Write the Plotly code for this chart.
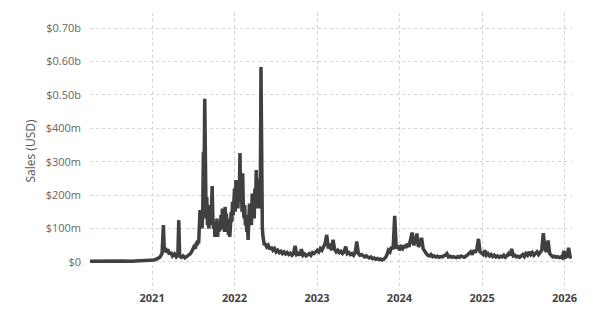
import pandas as pd
import plotly.graph_objects as go

# Segment 1: quiet start (explicit dates), values in USD millions
dates_early = [
    "2020-04-01","2020-05-15","2020-07-01","2020-08-15","2020-10-01","2020-11-15","2020-12-20",
    "2021-01-10","2021-01-25","2021-02-05","2021-02-14","2021-02-20","2021-02-24","2021-03-01",
    "2021-03-06","2021-03-12","2021-03-18","2021-03-24","2021-04-01","2021-04-10","2021-04-18",
    "2021-04-25","2021-04-29","2021-05-03","2021-05-10","2021-05-18","2021-05-26","2021-06-03",
    "2021-06-12","2021-06-20","2021-06-28","2021-07-05","2021-07-12","2021-07-17",
]
sales_early = [
    2, 3, 2, 3, 2, 3, 3,
    6, 10, 15, 25, 110, 30, 42,
    28, 38, 22, 30, 18, 24, 15,
    20, 125, 18, 14, 18, 12, 16,
    20, 25, 35, 45, 40, 60,
]

# Segment 2: boom period, every 3 days from 2021-07-20
boom_start = "2021-07-20"
sales_boom = [
    50, 65, 55, 95, 155, 110, 130, 100, 145, 330,
    250, 488, 200, 130, 195, 110, 170, 100, 125, 150,
    110, 180, 227, 130, 100, 120, 75, 110, 85, 130,
    75, 100, 90, 120, 95, 140, 100, 160, 110, 150,
    90, 165, 120, 145, 90, 130, 80, 120, 75, 110,
    150, 120, 180, 140, 190, 220, 150, 245, 170, 210,
    160, 240, 200, 326, 180, 230, 150, 265, 160, 130,
    170, 110, 140, 90, 110, 66, 120, 175, 120, 160,
    110, 205, 140, 190, 130, 220, 160, 275, 170, 230,
    205, 160, 250, 190, 583, 200, 100, 75, 60, 50,
]

# Segment 3: weekly from 2022-05-16
late_start = "2022-05-16"
sales_late = [
    55, 45, 50, 38, 45, 35, 40, 30, 35, 28,
    32, 25, 30, 24, 28, 22, 26, 20, 25, 48,
    22, 25, 20, 38, 20, 24, 18, 22, 25, 20,
    28, 25, 32, 35, 30, 40, 35, 45, 55, 81,
    40, 55, 35, 66, 38, 30, 35, 28, 32, 25,
    30, 46, 25, 28, 22, 25, 20, 28, 61, 25,
    20, 22, 18, 15, 18, 14, 12, 15, 10, 12,
    8, 10, 7, 9, 6, 8, 12, 20, 35, 30,
    45, 38, 138, 40, 50, 35, 45, 40, 50, 42,
    55, 45, 70, 88, 50, 60, 85, 45, 55, 72,
    40, 30, 25, 20, 18, 22, 16, 18, 15, 17,
    14, 16, 15, 18, 20, 25, 15, 17, 14, 16,
    15, 13, 16, 14, 18, 15, 14, 17, 20, 25,
    30, 22, 35, 28, 40, 69, 30, 25, 22, 35,
    20, 25, 18, 22, 16, 20, 15, 18, 14, 17,
    15, 20, 14, 18, 25, 20, 39, 18, 20, 15,
    17, 14, 18, 22, 16, 25, 20, 30, 22, 28,
    20, 25, 30, 22, 28, 35, 86, 40, 30, 64,
    25, 18, 15, 17, 14, 16, 13, 15, 12, 33,
    14, 16, 42, 15, 13,
]

ytick_vals = [0, 100, 200, 300, 400, 500, 600, 700]
ytick_text = ["$0", "$100m", "$200m", "$300m", "$400m", "$0.50b", "$0.60b", "$0.70b"]
xtick_vals = ["2021-01-01", "2022-01-01", "2023-01-01", "2024-01-01", "2025-01-01", "2026-01-01"]
xtick_text = ["2021", "2022", "2023", "2024", "2025", "2026"]

assert len(dates_early) == len(sales_early)
boom_dates = pd.date_range(boom_start, periods=len(sales_boom), freq="3D")
late_dates = pd.date_range(late_start, periods=len(sales_late), freq="7D")

x_all = list(pd.to_datetime(dates_early)) + list(boom_dates) + list(late_dates)
y_all = [v * 1e6 for v in sales_early + sales_boom + sales_late]

fig = go.Figure()
fig.add_trace(go.Scatter(
    x=x_all, y=y_all,
    mode="lines", line=dict(color="#404040", width=3.5),
    hoverinfo="skip", showlegend=False,
))

grid = "#d4d4d4"
fig.update_layout(
    width=599, height=323,
    margin=dict(l=90, r=27, t=13, b=33),
    paper_bgcolor="white", plot_bgcolor="white",
    font=dict(family="Open Sans", size=11, color="#555"),
    xaxis=dict(
        range=["2020-04-01", "2026-02-03"],
        tickvals=xtick_vals, ticktext=xtick_text,
        showgrid=True, gridcolor=grid, griddash="3px,3px", gridwidth=1,
        zeroline=False, showline=False, ticks="",
        tickfont=dict(family="Open Sans", size=11, color="#444", weight="bold"),
        fixedrange=True,
    ),
    yaxis=dict(
        range=[-84e6, 745e6],
        tickvals=[v * 1e6 for v in ytick_vals], ticktext=ytick_text,
        showgrid=True, gridcolor=grid, griddash="3px,3px", gridwidth=1,
        zeroline=False, showline=False, ticks="",
        tickfont=dict(family="Open Sans", size=11, color="#666"),
        ticklabelstandoff=8,
        fixedrange=True,
    ),
    annotations=[dict(
        text="Sales (USD)", textangle=-90,
        xref="paper", yref="paper", x=(30 - 90) / 482, y=0.5,
        xanchor="center", yanchor="middle", showarrow=False,
        font=dict(family="Open Sans", size=12, color="#555"),
    )],
)

fig.write_html("out.html")
